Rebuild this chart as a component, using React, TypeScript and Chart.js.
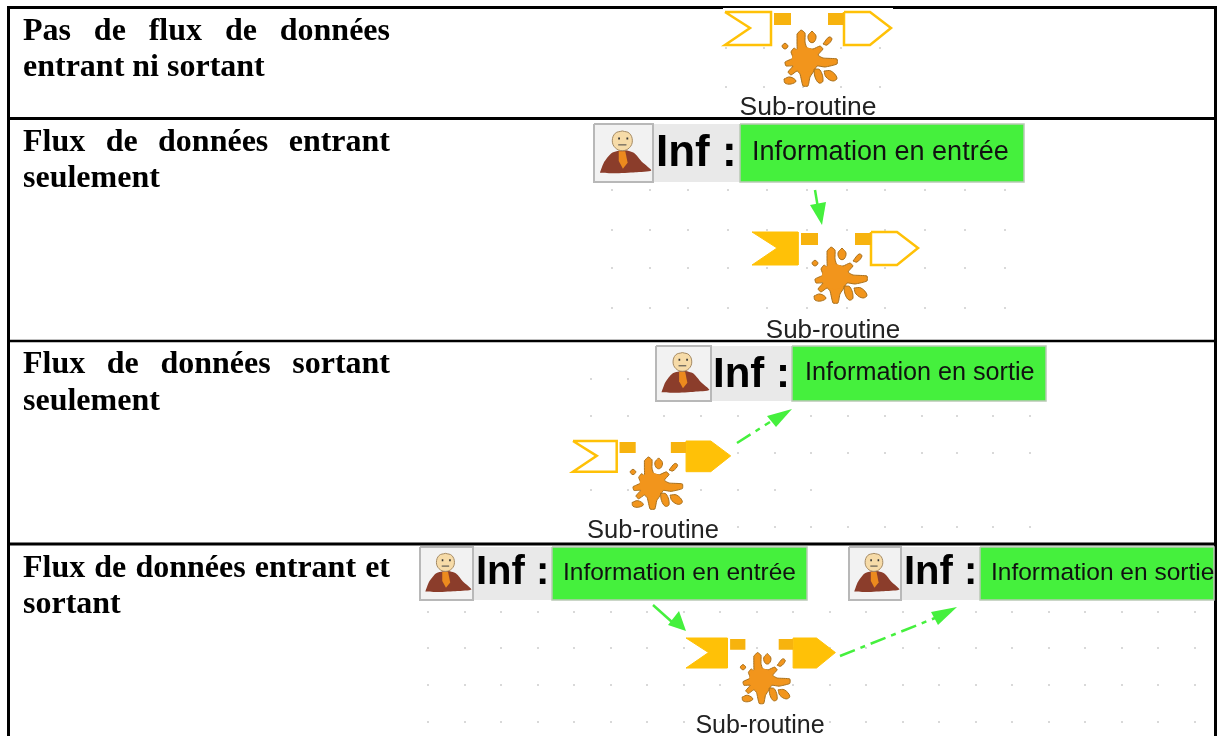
import React, { useEffect, useRef } from "react";
import { Chart, registerables } from "chart.js";

Chart.register(...registerables);

type P = [number, number];

// ---- table
const rowRuleY = [7.5, 118.5, 341, 544];
const rowRuleW = [3, 3, 2.5, 3];
const rowLabels: [string, number, boolean][] = [
  ["Pas de flux de données", 40, true],
  ["entrant ni sortant", 76, false],
  ["Flux de données entrant", 151, true],
  ["seulement", 187, false],
  ["Flux de données sortant", 373, true],
  ["seulement", 410, false],
  ["Flux de données entrant et", 577, true],
  ["sortant", 613, false],
];

// ---- sub-routine glyph parts (relative)
const leftFlag: P[] = [[0, 0], [46, 0], [46, 33], [0, 33], [25, 16], [0, 0]];
const rightFlag: P[] = [[119, 0], [145, 0], [166, 16], [145, 33], [119, 33], [119, 0]];
const portLeft: P[] = [[49, 1], [66, 1], [66, 13], [49, 13], [49, 1]];
const portRight: P[] = [[103, 1], [119, 1], [119, 13], [103, 13], [103, 1]];
const splatBody: P[] = [[-8, -24], [-4, -28], [0, -25], [0, -16], [2, -10], [8, -9], [15, -12], [18, -9], [13, -3], [18, 0], [32, 1], [32, 6], [20, 9], [12, 8], [9, 13], [5, 19], [3, 28], [-2, 28], [-5, 16], [-8, 13], [-14, 17], [-17, 14], [-12, 8], [-19, 8], [-20, 4], [-12, 0], [-14, -6], [-11, -10], [-8, -8], [-8, -15], [-8, -24]];
const splatCore: P[] = [[-10, -8], [0, -11], [11, -6], [13, 3], [8, 12], [-2, 14], [-11, 8], [-13, 0], [-10, -8]];
const splatBlobs: P[][] = [
  [[7, -27], [11, -22], [9, -16], [5, -16], [3, -22], [7, -27]],
  [[18, -14], [24, -21], [27, -19], [22, -13], [18, -14]],
  [[-20, -15], [-17, -12], [-20, -9], [-23, -12], [-20, -15]],
  [[-21, 21], [-15, 19], [-9, 23], [-14, 26], [-20, 25], [-21, 21]],
  [[19, 13], [26, 13], [32, 20], [28, 23], [21, 19], [19, 13]],
  [[9, 11], [15, 12], [18, 23], [14, 25], [10, 19], [9, 11]],
];

// [x, y, sx, sy, leftFilled, rightFilled, splatX, splatY, textX, textBase, fontPx]
const glyphs: [number, number, number, number, boolean, boolean, number, number, number, number, number][] = [
  [725, 12, 1, 1, false, false, 805, 58, 808, 115, 26.5],
  [752, 232, 1, 1, true, false, 835, 275, 833, 338, 26],
  [573, 441, 0.95, 0.93, false, true, 652, 483, 653, 538, 25.5],
  [686, 638, 0.9, 0.91, true, true, 761, 678, 760, 733, 25],
];
const subRoutineLabel = "Sub-routine";

// ---- person icon (unit box)
const cloak: P[] = [[0.1, 0.84], [0.17, 0.66], [0.3, 0.5], [0.5, 0.45], [0.68, 0.5], [0.82, 0.66], [0.97, 0.8], [0.7, 0.83], [0.35, 0.85], [0.1, 0.84]];
const head: P[] = [[0.48, 0.12], [0.6, 0.16], [0.65, 0.29], [0.6, 0.41], [0.48, 0.46], [0.36, 0.41], [0.31, 0.29], [0.36, 0.16], [0.48, 0.12]];
const tie: P[] = [[0.42, 0.47], [0.53, 0.47], [0.57, 0.67], [0.49, 0.77], [0.42, 0.64], [0.42, 0.47]];
const eyes: P[] = [[0.41, 0.25], [0.55, 0.25]];
const mouth: P[] = [[0.41, 0.36], [0.55, 0.36]];

// [iconL, iconR, top, bottom, infX, infBase, infPx, boxL, boxR, label, labelX, labelBase, labelPx]
const infoBoxes: [number, number, number, number, number, number, number, number, number, string, number, number, number][] = [
  [594, 653, 124, 182, 656, 166, 44, 740, 1024, "Information en entrée", 752, 160, 27],
  [656, 711, 346, 401, 713, 387, 42, 792, 1046, "Information en sortie", 805, 380, 25.2],
  [420, 473, 547, 600, 476, 584, 40, 552, 807, "Information en entrée", 563, 580, 24.5],
  [849, 901, 547, 600, 904, 584, 40, 980, 1214, "Information en sortie", 991, 580, 24.5],
];
const infLabel = "Inf :";

// ---- arrows
const arrowStems: P[][] = [
  [[815, 190], [818, 208]],
  [[737, 443], [770, 422]],
  [[653, 605], [672, 622]],
  [[840, 656], [935, 618]],
];
const arrowDashed = [false, true, false, true];
const arrowHeads: P[][] = [
  [[810, 205], [826, 202], [822, 225], [810, 205]],
  [[767, 416], [792, 409], [776, 427], [767, 416]],
  [[668, 625], [679, 611], [686, 631], [668, 625]],
  [[931, 612], [957, 607], [938, 625], [931, 612]],
];

// ---- grid dots
const dotBlocks: [number[], number[]][] = [
  [[726, 764, 803, 841, 880], [48, 87]],
  [[612, 650, 688, 728, 767, 807, 847, 885, 925, 965, 1005], [190, 230, 268, 308]],
  [[591, 628], [379]],
  [[591, 628, 664, 701, 738, 775, 811, 848, 885, 922, 957, 993, 1030], [416]],
  [[738, 775, 811, 848, 885, 922, 957, 993, 1030], [453]],
  [[591, 628, 664, 701, 738, 775, 811], [490]],
  [[738, 775, 811, 848, 885, 922, 957, 993, 1030], [527]],
  [[428, 465, 501, 538, 574, 611, 647, 684, 720, 757, 793, 830, 866, 903, 939, 976, 1012, 1049, 1085, 1122, 1158, 1195], [612, 648, 685, 722]],
];

const YELLOW = "#ffc107";
const PORT = "#f7b30e";
const SPLAT = "#f2951c";
const GREEN = "#45f03d";

function buildDatasets() {
  const ds: any[] = [];
  const poly = (pts: P[], o: any = {}) =>
    ds.push({
      data: pts.map(([x, y]) => ({ x, y })),
      showLine: true,
      pointRadius: 0,
      borderColor: o.stroke ?? "transparent",
      borderWidth: o.width ?? 0,
      backgroundColor: o.fill ?? "transparent",
      fill: o.fill ? "shape" : false,
      tension: o.tension ?? 0,
      borderDash: o.dash ?? [],
      borderJoinStyle: o.join ?? "miter",
    });

  // table rules
  rowRuleY.forEach((y, i) => poly([[7, y], [1217, y]], { stroke: "#000", width: rowRuleW[i] }));
  poly([[8.5, 6], [8.5, 736]], { stroke: "#000", width: 3 });
  poly([[1215.5, 6], [1215.5, 736]], { stroke: "#000", width: 3 });
  // white image backing of first row
  poly([[723, 8], [893, 8], [893, 117], [723, 117], [723, 8]], { fill: "#fff" });

  // grid dots
  dotBlocks.forEach(([xs, ys]) => {
    ds.push({
      data: ys.flatMap((y) => xs.map((x) => ({ x, y }))),
      showLine: false,
      pointStyle: "rect",
      pointRadius: 1.2,
      pointBorderWidth: 0,
      pointBackgroundColor: "#c4c4c4",
    });
  });

  // sub-routines
  glyphs.forEach(([x0, y0, sx, sy, lf, rf, cx, cy]) => {
    const t = (pts: P[]): P[] => pts.map(([x, y]) => [x0 + x * sx, y0 + y * sy]);
    const s = (pts: P[]): P[] => pts.map(([x, y]) => [cx + x * sx, cy + y * sy]);
    poly(t(leftFlag), lf ? { fill: YELLOW, stroke: YELLOW, width: 1 } : { stroke: YELLOW, width: 2.5 });
    poly(t(rightFlag), rf ? { fill: YELLOW, stroke: YELLOW, width: 1 } : { stroke: YELLOW, width: 2.5 });
    poly(t(portLeft), { fill: PORT });
    poly(t(portRight), { fill: PORT });
    poly(s(splatBody), { fill: SPLAT, stroke: "#a8701c", width: 1, join: "round", tension: 0.15 });
    poly(s(splatCore), { fill: SPLAT, tension: 0.3 });
    splatBlobs.forEach((b) => poly(s(b), { fill: SPLAT, stroke: "#a8701c", width: 1, tension: 0.4 }));
  });

  // information boxes
  infoBoxes.forEach(([il, ir, top, bottom, , , , bl, br]) => {
    poly([[il, top], [bl, top], [bl, bottom], [il, bottom], [il, top]], { fill: "#e9e9e9" });
    poly([[il, top], [ir, top], [ir, bottom], [il, bottom], [il, top]], { fill: "#f2f2f2", stroke: "#b8b8b8", width: 2 });
    const u = (pts: P[]): P[] => pts.map(([x, y]) => [il + x * (ir - il), top + y * (bottom - top)]);
    poly(u(cloak), { fill: "#8b3d2b", tension: 0.2 });
    poly(u(tie), { fill: "#ec8a1e" });
    poly(u(head), { fill: "#f6dba8", stroke: "#a58a63", width: 1, tension: 0.4 });
    poly(u([eyes[0], [eyes[0][0] + 0.03, eyes[0][1]]]), { stroke: "#333", width: 2 });
    poly(u([eyes[1], [eyes[1][0] + 0.03, eyes[1][1]]]), { stroke: "#333", width: 2 });
    poly(u(mouth), { stroke: "#444", width: 1 });
    poly([[bl, top], [br, top], [br, bottom], [bl, bottom], [bl, top]], { fill: GREEN, stroke: "#b9c9b5", width: 1.5 });
  });

  // arrows
  arrowStems.forEach((stem, i) => {
    poly(stem, { stroke: GREEN, width: 2.5, dash: arrowDashed[i] ? [16, 6, 5, 6] : [] });
    poly(arrowHeads[i], { fill: GREEN });
  });

  const n = ds.length;
  ds.forEach((d, i) => (d.order = n - i));
  return ds;
}

const textPlugin = {
  id: "tableText",
  afterDatasetsDraw(chart: any) {
    const { ctx, scales } = chart;
    const X = (v: number) => scales.x.getPixelForValue(v);
    const Y = (v: number) => scales.y.getPixelForValue(v);
    ctx.save();
    ctx.textBaseline = "alphabetic";
    ctx.fillStyle = "#000";
    ctx.textAlign = "left";
    ctx.font = 'bold 32px "Liberation Serif"';
    rowLabels.forEach(([s, y, just]) => {
      if (!just) {
        ctx.fillText(s, X(23), Y(y));
        return;
      }
      const words = s.split(" ");
      const widths = words.map((w) => ctx.measureText(w).width);
      const total = widths.reduce((a, b) => a + b, 0);
      const gap = (X(390) - X(23) - total) / (words.length - 1);
      let x = X(23);
      words.forEach((w, i) => {
        ctx.fillText(w, x, Y(y));
        x += widths[i] + gap;
      });
    });
    infoBoxes.forEach((b) => {
      const [, , , , ix, ib, ip, , , label, lx, lb, lp] = b;
      ctx.fillStyle = "#000";
      ctx.font = `bold ${ip}px "Liberation Sans"`;
      ctx.fillText(infLabel, X(ix), Y(ib));
      ctx.fillStyle = "#111";
      ctx.font = `${lp}px "Liberation Sans"`;
      ctx.fillText(label, X(lx), Y(lb));
    });
    ctx.textAlign = "center";
    ctx.fillStyle = "#222";
    glyphs.forEach((g) => {
      ctx.font = `${g[10]}px "Liberation Sans"`;
      ctx.fillText(subRoutineLabel, X(g[8]), Y(g[9]));
    });
    ctx.restore();
  },
};

export default function App() {
  const ref = useRef<HTMLCanvasElement>(null);
  useEffect(() => {
    const chart = new Chart(ref.current as HTMLCanvasElement, {
      type: "scatter",
      data: { datasets: buildDatasets() },
      plugins: [textPlugin],
      options: {
        animation: false,
        responsive: false,
        layout: { padding: 0, autoPadding: false },
        plugins: { legend: { display: false }, tooltip: { enabled: false }, title: { display: false } },
        scales: {
          x: { type: "linear", min: 0, max: 1220, display: false },
          y: { type: "linear", min: 0, max: 736, reverse: true, display: false },
        },
      },
    } as any);
    return () => chart.destroy();
  }, []);
  return (
    <div style={{ position: "absolute", left: 0, top: 0, width: 1220, height: 736, background: "#fff" }}>
      <canvas ref={ref} width={1220} height={736} style={{ display: "block" }} />
    </div>
  );
}
